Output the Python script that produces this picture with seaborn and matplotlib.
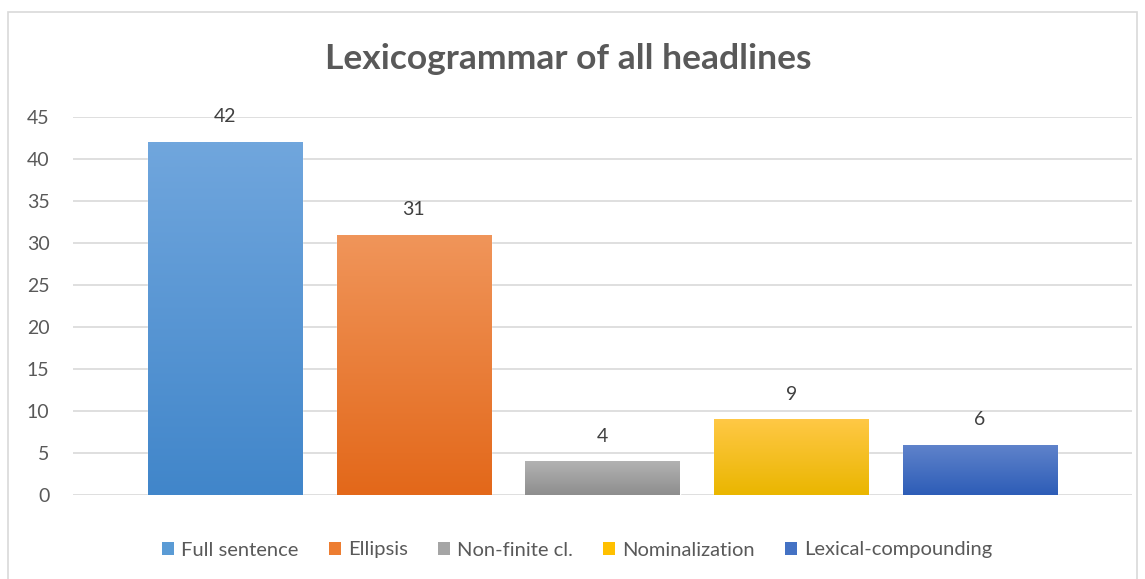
import numpy as np
import pandas as pd
import matplotlib
matplotlib.use("Agg")
import matplotlib.pyplot as plt
import seaborn as sns
from matplotlib.patches import Patch, Rectangle
from matplotlib.colors import to_rgb

categories = ["Full sentence", "Ellipsis", "Non-finite cl.", "Nominalization", "Lexical-compounding"]
values = [42, 31, 4, 9, 6]
top_colors = ["#70a6dd", "#f0955a", "#b2b2b2", "#ffc845", "#6083cb"]
bottom_colors = ["#4186ca", "#e3681a", "#8e8e8e", "#eab600", "#2d5db7"]
mid_colors = ["#5a9bd5", "#ed7d31", "#a5a5a5", "#ffc000", "#4472c4"]
yticks = [0, 5, 10, 15, 20, 25, 30, 35, 40, 45]

sns.set_theme(style="white")
plt.rcParams['font.family'] = ['Lato', 'DejaVu Sans']

W, H = 1145, 579
fig = plt.figure(figsize=(W / 100, H / 100), dpi=100)
ax = fig.add_axes([73 / W, 1 - 495 / H, (1132 - 73) / W, (495 - 117) / H])

df = pd.DataFrame({"cat": categories, "val": values})
sns.barplot(data=df, x="cat", y="val", hue="cat", palette=mid_colors,
            width=0.816, legend=False, ax=ax, saturation=1)

ax.set_yticks(yticks)
ax.set_yticklabels([str(t) for t in yticks], fontsize=14, color="#595959")
ax.set_xticks([])
ax.set_xlabel("")
ax.set_ylabel("")
for s in ax.spines.values():
    s.set_visible(False)
ax.yaxis.grid(True, color="#d9d9d9", linewidth=1.2)
ax.set_axisbelow(True)
ax.tick_params(axis="y", length=0, pad=17)

# gradient fills clipped to the bars
for patch, tc, bc in zip(ax.patches, top_colors, bottom_colors):
    x0, y0 = patch.get_x(), patch.get_y()
    w, h = patch.get_width(), patch.get_height()
    t = np.array(to_rgb(tc)); b = np.array(to_rgb(bc))
    n = 64
    grad = np.linspace(0, 1, n)[:, None] * (t - b) + b
    img = grad[:, None, :]
    im = ax.imshow(img, extent=[x0, x0 + w, y0, y0 + h], origin="lower",
                   aspect="auto", zorder=patch.get_zorder() + 0.1, interpolation="bilinear")
    im.set_clip_path(patch)
    ax.text(x0 + w / 2, h + 3.0, str(int(h)), ha="center", va="center",
            fontsize=14, color="#404040")

ax.set_aspect("auto")
ax.set_xlim(-0.805, 4.805)
ax.set_ylim(0, 45)

fig.text(0.5 - 4 / W, 1 - 59 / H, "Lexicogrammar of all headlines", ha="center", va="center",
         fontsize=25.5, fontweight="bold", color="#595959")

handles = [Patch(facecolor=c, edgecolor="none") for c in mid_colors]
fig.legend(handles, categories, loc="center", bbox_to_anchor=(0.5 + 5 / W, 1 - 550 / H), ncol=5,
           frameon=False, fontsize=14.5, handlelength=0.6, handleheight=0.6,
           handletextpad=0.35, columnspacing=1.5, labelcolor="#595959")

fig.patches.append(Rectangle((8 / W, -0.01), (1137 - 8) / W, 1 - 12 / H + 0.01,
                             transform=fig.transFigure, fill=False,
                             edgecolor="#d9d9d9", linewidth=1.2))

fig.savefig("out.png", dpi=100)
